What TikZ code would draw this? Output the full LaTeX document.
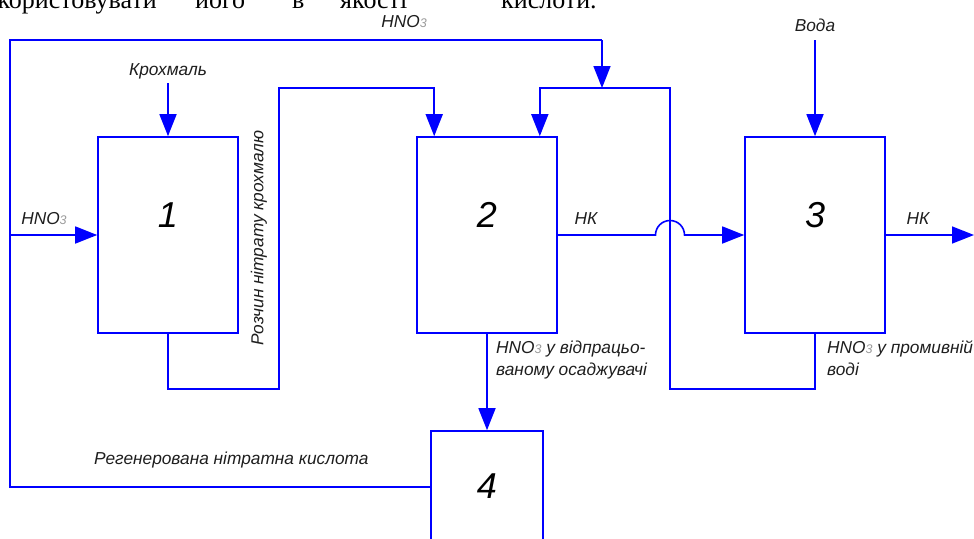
\documentclass[tikz,border=0pt]{standalone}
\usepackage{fontspec}
\setmainfont{Liberation Sans}
\newfontfamily\serifsh{Liberation Serif}
\usetikzlibrary{arrows.meta,positioning,calc}
\definecolor{liniya}{RGB}{0,0,255}
\definecolor{tekst}{RGB}{30,30,30}
\newcommand{\hno}{HNO{\fontsize{12.5}{12.5}\selectfont\color{gray!80}3}}
\tikzset{
  apar/.style={draw=liniya,line width=1.6pt,minimum width=140pt,minimum height=196pt,inner sep=0pt},
  potik/.style={draw=liniya,line width=1.6pt},
  strilka/.style={potik,-{Triangle[length=22pt,width=17pt]}},
  napys/.style={text=tekst,font=\fontsize{17.3}{22}\selectfont\itshape,inner sep=0pt},
  nomer/.style={text=black,font=\fontsize{36}{36}\selectfont\itshape,inner sep=0pt},
  ryadok/.style={text=black,font=\fontsize{26}{26}\selectfont\serifsh,inner sep=0pt,anchor=base west},
}

\begin{document}
\begin{tikzpicture}[x=1pt,y=-1pt]
  \useasboundingbox (0,0) rectangle (974,538);
  \clip (0,0) rectangle (974,538);

  % rest of the page line above the scheme
  \node[ryadok,anchor=base east] (w1) at (157,9) {використовувати};
  \node[ryadok] (w2) at (195,9) {його};
  \node[ryadok] (w3) at (292,9) {в};
  \node[ryadok] (w4) at (340,9) {якості};
  \node[ryadok] (w5) at (501,9) {кислоти.};

  % apparatus
  \node[apar] (b1) at (168,235) {};
  \node[apar] (b2) at (487,235) {};
  \node[apar] (b3) at (815,235) {};
  \node[apar,minimum width=112pt] (b4) at (487,529) {};
  \node[nomer] (n1) at ($(b1.north)+(0,79)$) {1};
  \node[nomer] (n2) at ($(b2.north)+(0,79)$) {2};
  \node[nomer] (n3) at ($(b3.north)+(0,79)$) {3};
  \node[nomer] (n4) at ($(b4.north)+(0,56)$) {4};

  % inputs and loops
  \coordinate (krop) at (168,83);
  \coordinate (vodop) at (815,40);
  \coordinate (lv) at (10,40);
  \coordinate (ln) at (10,487);
  \coordinate (lhno) at (10,235);
  \coordinate (rozg) at (602,40);
  \coordinate (vuz) at (602,88);
  \coordinate (vyhid) at (974,235);

  \draw[strilka] (krop) -- (b1.north);
  \draw[strilka] (vodop) -- (b3.north);
  \draw[potik] (b4.west |- ln) -- (ln) -- (lv) -- (rozg);
  \draw[strilka] (rozg) -- (vuz);
  \draw[strilka] (lhno) -- (b1.west);
  \draw[strilka] (b1.south) -- ++(0,55) -| (279,88) -| ($(b2.north west)+(18,0)$);
  \draw[strilka] (b3.south) -- ++(0,55) -| (670,88) -| ($(b2.north east)+(-18,0)$);
  \draw[strilka] (b2.south) -- (b4.north);
  \draw[strilka] (b2.east) -- (655.5,235) arc[start angle=180,end angle=0,radius=14.5pt] -- (b3.west);
  \draw[strilka] (b3.east) -- (vyhid);

  % labels
  \node[napys] (l1) at (404,22) {\hno};
  \node[napys] (l2) at (815,25) {Вода};
  \node[napys] (l3) at (168,71) {Крохмаль};
  \node[napys] (l4) at (44,219) {\hno};
  \node[napys,rotate=90] (l5) at (259,238) {Розчин нітрату крохмалю};
  \node[napys] (l6) at (586,219) {НК};
  \node[napys] (l7) at (918,219) {НК};
  \node[napys,align=left,anchor=north west] (l8) at (496,341) {\hno{} у відпрацьо-\\ваному осаджувачі};
  \node[napys,align=left,anchor=north west] (l9) at (827,341) {\hno{} у промивній\\воді};
  \node[napys,anchor=west] (l10) at (94,460) {Регенерована нітратна кислота};
\end{tikzpicture}
\end{document}
